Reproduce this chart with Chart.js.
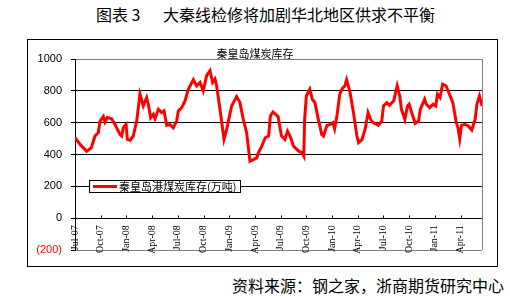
<!DOCTYPE html>
<html>
<head>
<meta charset="utf-8">
<script src="https://cdn.jsdelivr.net/npm/chart.js@4.4.0/dist/chart.umd.min.js"></script>
<style>
  body { margin: 0; width: 510px; height: 300px; background: #fff; position: relative; overflow: hidden;
         font-family: "Noto Sans CJK SC", sans-serif; color: #000; }
  .t { position: absolute; top: 0; height: 29px; line-height: 29px; font-size: 16px; white-space: nowrap; }
  #box { position: absolute; left: 27px; top: 39px; width: 469px; height: 226px; border: 1px solid #000; }
  #chart { position: absolute; left: 0; top: 0; }
  #src { position: absolute; left: 232px; top: 275px; line-height: 20px; font-size: 16px; white-space: nowrap; }
</style>
</head>
<body>
<div class="t" style="left:96px">图表 3</div>
<div class="t" style="left:163px">大秦线检修将加剧华北地区供求不平衡</div>
<div id="box"><canvas id="chart" width="469" height="226"></canvas></div>
<div id="src">资料来源：钢之家，浙商期货研究中心</div>

<script>
// months elapsed since Jul-07
const months = [0, 0.7, 1.36, 1.9, 2.33, 2.72, 2.92, 3.31, 3.5, 3.77, 4.28, 4.67, 5.25, 5.45, 5.64, 5.96,
  6.1, 6.42, 6.8, 7.2, 7.58, 7.97, 8.36, 8.56, 8.83, 9.14, 9.34, 9.73, 10.11, 10.39, 10.7, 11.09, 11.47,
  11.86, 12.06, 12.45, 12.84, 13.22, 13.81, 14.2, 14.59, 14.97, 15.36, 15.75, 16.06, 16.34, 16.53, 16.92,
  17.39, 17.7, 18.28, 18.86, 19.25, 19.64, 20.03, 20.42, 20.81, 21.2, 21.4, 21.8, 22.2, 22.6, 22.8, 23.1,
  23.7, 24.1, 24.5, 24.8, 25.1, 25.5, 26.1, 26.5, 26.7, 26.8, 27.0, 27.4, 27.7, 28.0, 28.4, 28.8, 29.0,
  29.4, 29.8, 30.1, 30.3, 30.6, 30.9, 31.2, 31.5, 31.7, 31.9, 32.1, 32.5, 32.9, 33.1, 33.5, 33.9, 34.2,
  34.5, 34.8, 35.4, 35.8, 36.0, 36.4, 36.7, 37.2, 37.6, 37.9, 38.1, 38.5, 38.8, 39.0, 39.3, 39.7, 40.1,
  40.3, 40.8, 41.0, 41.4, 41.8, 42.1, 42.3, 42.6, 42.9, 43.3, 43.7, 44.1, 44.5, 44.7, 44.9, 45.1, 45.5,
  45.9, 46.3, 46.7, 46.9, 47.2, 47.5];

// 秦皇岛港煤炭库存 (万吨)
const stock = [505, 457, 421, 442, 516, 537, 610, 638, 604, 632, 625, 589, 526, 516, 568, 589,
  495, 490, 516, 610, 779, 705, 758, 716, 632, 653, 625, 684, 663, 674, 583, 589, 568,
  610, 674, 695, 737, 810, 870, 832, 853, 800, 895, 926, 853, 874, 832, 684,
  495, 558, 705, 764, 726, 621, 537, 358, 368, 379, 411, 453, 505, 516, 642, 667,
  638, 516, 495, 547, 516, 453, 421, 411, 390, 621, 768, 810, 747, 726, 621, 526, 516,
  583, 589, 600, 562, 653, 779, 815, 832, 870, 832, 789, 663, 516, 474, 495, 568, 663,
  621, 600, 583, 610, 705, 726, 709, 737, 832, 768, 684, 621, 705, 716, 663, 596, 610,
  684, 747, 716, 695, 716, 705, 779, 758, 842, 832, 779, 726, 600, 568, 499, 583, 589,
  579, 554, 621, 716, 768, 705];

const quarterLabels = ['Jul-07', 'Oct-07', 'Jan-08', 'Apr-08', 'Jul-08', 'Oct-08', 'Jan-09', 'Apr-09',
  'Jul-09', 'Oct-09', 'Jan-10', 'Apr-10', 'Jul-10', 'Oct-10', 'Jan-11', 'Apr-11'];

const yTicks = [-200, 0, 200, 400, 600, 800, 1000];

const points = months.map((m, i) => ({ x: m, y: stock[i] }));

// gray frame, small x tick marks, legend box inside plot
const extras = {
  id: 'extras',
  beforeDatasetsDraw(chart) {
    const { ctx, chartArea: a, scales } = chart;
    ctx.save();
    ctx.strokeStyle = '#808080';
    ctx.lineWidth = 1;
    ctx.beginPath();
    ctx.moveTo(Math.round(a.right) + 0.5, a.top);
    ctx.lineTo(Math.round(a.right) + 0.5, a.bottom);
    ctx.stroke();
    const y0 = Math.round(scales.y.getPixelForValue(0)) + 0.5;
    ctx.strokeStyle = '#000';
    scales.x.ticks.forEach(t => {
      const px = Math.round(scales.x.getPixelForValue(t.value)) + 0.5;
      ctx.beginPath();
      ctx.moveTo(px, y0);
      ctx.lineTo(px, y0 - 3);
      ctx.stroke();
    });
    ctx.restore();
  },
  afterDatasetsDraw(chart) {
    const { ctx, chartArea: a, scales } = chart;
    const ds = chart.data.datasets[0];
    const x = Math.round(a.left) + 14;
    const yc = Math.round(scales.y.getPixelForValue(200));
    ctx.save();
    ctx.fillStyle = '#fff';
    ctx.fillRect(x, yc - 6, 151, 12);
    ctx.strokeStyle = '#000';
    ctx.lineWidth = 1;
    ctx.strokeRect(x + 0.5, yc - 5.5, 151, 12);
    ctx.strokeStyle = ds.borderColor;
    ctx.lineWidth = 3;
    ctx.beginPath();
    ctx.moveTo(x + 4, yc + 0.5);
    ctx.lineTo(x + 28, yc + 0.5);
    ctx.stroke();
    ctx.fillStyle = '#000';
    ctx.font = '11px "Noto Sans CJK SC"';
    ctx.textBaseline = 'middle';
    ctx.fillText(ds.label, x + 30, yc + 1);
    ctx.restore();
  }
};

new Chart(document.getElementById('chart'), {
  type: 'line',
  data: {
    datasets: [{
      label: '秦皇岛港煤炭库存(万吨)',
      data: points,
      borderColor: '#ff0000',
      borderWidth: 3,
      pointRadius: 0,
      tension: 0,
      fill: false
    }]
  },
  options: {
    responsive: false,
    animation: false,
    layout: { padding: { left: 0, right: 15, bottom: 16, top: 0 } },
    plugins: {
      legend: { display: false },
      tooltip: { enabled: false },
      title: {
        display: true,
        text: '秦皇岛煤炭库存',
        color: '#000',
        font: { family: '"Noto Sans CJK SC"', size: 11, weight: 'normal', lineHeight: 1 },
        padding: { top: 8, bottom: 0 }
      }
    },
    scales: {
      x: {
        type: 'linear',
        min: 0,
        max: 47.5,
        position: { y: 0 },
        afterFit: s => { s.height = 0; },
        grid: { display: false, drawTicks: false },
        border: { color: '#000', width: 1 },
        ticks: {
          stepSize: 3,
          includeBounds: false,
          autoSkip: false,
          maxRotation: 90,
          minRotation: 90,
          padding: 7,
          color: '#000',
          font: { family: '"Liberation Serif", serif', size: 10 },
          callback: v => quarterLabels[Math.round(v / 3)]
        }
      },
      y: {
        min: yTicks[0],
        max: yTicks[yTicks.length - 1],
        afterFit: s => { s.width = 47; },
        border: { color: '#000' },
        grid: {
          color: c => (c.tick && (c.tick.value === 1000 || c.tick.value === -200)) ? '#808080' : '#000',
          tickColor: '#000',
          tickLength: 4
        },
        ticks: {
          stepSize: 200,
          padding: 9,
          color: c => c.tick.value < 0 ? '#ff0000' : '#000',
          font: { family: '"Liberation Sans", Arial, sans-serif', size: 11 },
          callback: v => v < 0 ? '(' + (-v) + ')' : v
        }
      }
    }
  },
  plugins: [extras]
});
</script>
</body>
</html>
